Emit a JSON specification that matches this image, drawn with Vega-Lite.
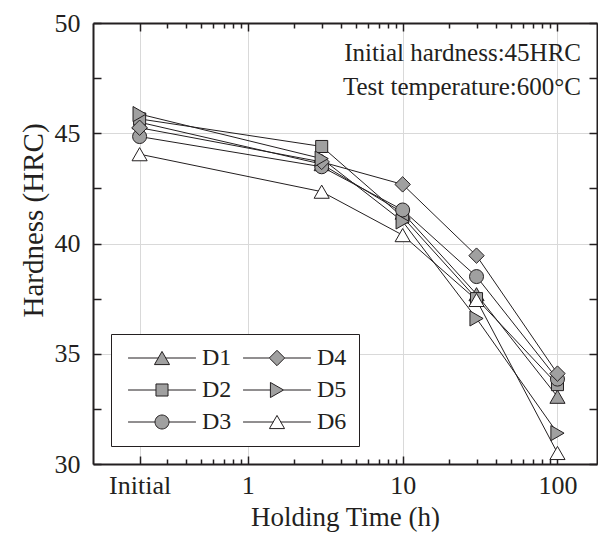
{
  "$schema": "https://vega.github.io/schema/vega-lite/v6.json",
  "width": 504,
  "height": 441,
  "autosize": {"type": "none"},
  "padding": {"left": 93, "top": 23, "right": 1, "bottom": 69},
  "background": "white",
  "config": {"view": {"stroke": null}, "font": "Liberation Serif"},
  "title": {
    "text": ["Initial hardness:45HRC", "Test temperature:600°C"],
    "anchor": "end",
    "orient": "top",
    "frame": "group",
    "offset": -90,
    "baseline": "top",
    "dx": -16,
    "font": "Liberation Serif",
    "fontSize": 25,
    "fontWeight": "normal",
    "color": "#231f20",
    "lineHeight": 34
  },
  "data": {
    "values": [
      {"series": "D1", "time": 0.2, "hardness": 45.5},
      {"series": "D1", "time": 3, "hardness": 43.6},
      {"series": "D1", "time": 10, "hardness": 41.4},
      {"series": "D1", "time": 30, "hardness": 37.7},
      {"series": "D1", "time": 100, "hardness": 33.05},
      {"series": "D2", "time": 0.2, "hardness": 45.65},
      {"series": "D2", "time": 3, "hardness": 44.4},
      {"series": "D2", "time": 10, "hardness": 41.2},
      {"series": "D2", "time": 30, "hardness": 37.5},
      {"series": "D2", "time": 100, "hardness": 33.6},
      {"series": "D3", "time": 0.2, "hardness": 44.85},
      {"series": "D3", "time": 3, "hardness": 43.48},
      {"series": "D3", "time": 10, "hardness": 41.52},
      {"series": "D3", "time": 30, "hardness": 38.5},
      {"series": "D3", "time": 100, "hardness": 33.85},
      {"series": "D4", "time": 0.2, "hardness": 45.25},
      {"series": "D4", "time": 3, "hardness": 43.7},
      {"series": "D4", "time": 10, "hardness": 42.68},
      {"series": "D4", "time": 30, "hardness": 39.45},
      {"series": "D4", "time": 100, "hardness": 34.1},
      {"series": "D5", "time": 0.2, "hardness": 45.87},
      {"series": "D5", "time": 3, "hardness": 43.85},
      {"series": "D5", "time": 10, "hardness": 41.0},
      {"series": "D5", "time": 30, "hardness": 36.6},
      {"series": "D5", "time": 100, "hardness": 31.4},
      {"series": "D6", "time": 0.2, "hardness": 44.05},
      {"series": "D6", "time": 3, "hardness": 42.35},
      {"series": "D6", "time": 10, "hardness": 40.38},
      {"series": "D6", "time": 30, "hardness": 37.44},
      {"series": "D6", "time": 100, "hardness": 30.5}
    ]
  },
  "layer": [
    {
      "mark": {"type": "line", "color": "#231f20", "strokeWidth": 1},
      "encoding": {
        "x": {
          "field": "time",
          "type": "quantitative",
          "scale": {"type": "log", "domain": [0.1, 180]},
          "axis": {
            "orient": "bottom",
            "title": "Holding Time (h)",
            "titleFont": "Liberation Serif",
            "titleFontSize": 27,
            "titleFontWeight": "normal",
            "titleColor": "#231f20",
            "titlePadding": 3,
            "values": [0.2, 0.3, 0.4, 0.5, 0.6, 0.7, 0.8, 0.9, 1, 2, 3, 4, 5, 6, 7, 8, 9, 10, 20, 30, 40, 50, 60, 70, 80, 90, 100],
            "labelExpr": "datum.value === 0.2 ? 'Initial' : (datum.value === 1 || datum.value === 10 || datum.value === 100) ? datum.label : ''",
            "labelFont": "Liberation Serif",
            "labelFontSize": 26,
            "labelColor": "#231f20",
            "labelFlush": false,
            "labelOverlap": false,
            "labelPadding": 16,
            "tickSize": {"condition": {"test": "datum.value === 0.2 || datum.value === 1 || datum.value === 10 || datum.value === 100", "value": -8}, "value": -5},
            "tickColor": "#231f20",
            "tickWidth": 1.5,
            "domainColor": "#231f20",
            "domainWidth": 2,
            "grid": true,
            "gridColor": "#d9d9d9",
            "gridWidth": 1,
            "gridOpacity": {"condition": {"test": "datum.value === 0.2 || datum.value === 1 || datum.value === 10 || datum.value === 100", "value": 1}, "value": 0}
          }
        },
        "y": {
          "field": "hardness",
          "type": "quantitative",
          "scale": {"domain": [30, 50]},
          "axis": {
            "orient": "left",
            "title": "Hardness (HRC)",
            "titleFont": "Liberation Serif",
            "titleFontSize": 29,
            "titleFontWeight": "normal",
            "titleColor": "#231f20",
            "titlePadding": 6,
            "titleY": 197,
            "values": [30, 32.5, 35, 37.5, 40, 42.5, 45, 47.5, 50],
            "labelExpr": "datum.value % 5 === 0 ? datum.label : ''",
            "labelFont": "Liberation Serif",
            "labelFontSize": 26,
            "labelColor": "#231f20",
            "labelFlush": false,
            "labelOverlap": false,
            "labelPadding": 21,
            "tickSize": -8,
            "tickColor": "#231f20",
            "tickWidth": 1.5,
            "domainColor": "#231f20",
            "domainWidth": 2,
            "grid": true,
            "gridColor": "#d9d9d9",
            "gridWidth": 1,
            "gridOpacity": {"condition": {"test": "datum.value % 5 === 0", "value": 1}, "value": 0}
          }
        },
        "detail": {"field": "series"}
      }
    },
    {
      "mark": {"type": "point", "filled": true, "strokeWidth": 1, "size": 196, "opacity": 1},
      "encoding": {
        "x": {
          "field": "time",
          "type": "quantitative",
          "scale": {"type": "log", "domain": [0.1, 180]},
          "axis": {
            "orient": "top",
            "title": null,
            "labels": false,
            "values": [0.2, 0.3, 0.4, 0.5, 0.6, 0.7, 0.8, 0.9, 1, 2, 3, 4, 5, 6, 7, 8, 9, 10, 20, 30, 40, 50, 60, 70, 80, 90, 100],
            "tickSize": {"condition": {"test": "datum.value === 0.2 || datum.value === 1 || datum.value === 10 || datum.value === 100", "value": -8}, "value": -5},
            "tickColor": "#231f20",
            "tickWidth": 1.5,
            "domainColor": "#231f20",
            "domainWidth": 2,
            "grid": false
          }
        },
        "y": {
          "field": "hardness",
          "type": "quantitative",
          "scale": {"domain": [30, 50]},
          "axis": {
            "orient": "right",
            "title": null,
            "labels": false,
            "values": [30, 32.5, 35, 37.5, 40, 42.5, 45, 47.5, 50],
            "tickSize": -8,
            "tickColor": "#231f20",
            "tickWidth": 1.5,
            "domainColor": "#231f20",
            "domainWidth": 2,
            "grid": false
          }
        },
        "shape": {
          "field": "series",
          "type": "nominal",
          "scale": {
            "domain": ["D1", "D2", "D3", "D4", "D5", "D6"],
            "range": [
              "M0,-0.94L1.08,0.94L-1.08,0.94Z",
              "M-0.86,-0.86L0.86,-0.86L0.86,0.86L-0.86,0.86Z",
              "circle",
              "M0,-1.1L1.1,0L0,1.1L-1.1,0Z",
              "M-0.94,-1.08L0.94,0L-0.94,1.08Z",
              "M0,-0.94L1.08,0.94L-1.08,0.94Z"
            ]
          },
          "legend": null
        },
        "fill": {
          "field": "series",
          "type": "nominal",
          "scale": {
            "domain": ["D1", "D2", "D3", "D4", "D5", "D6"],
            "range": ["#a0a0a0", "#a0a0a0", "#a0a0a0", "#a0a0a0", "#a0a0a0", "white"]
          },
          "legend": null
        },
        "stroke": {
          "field": "series",
          "type": "nominal",
          "scale": {
            "domain": ["D1", "D2", "D3", "D4", "D5", "D6"],
            "range": ["#231f20", "#231f20", "#231f20", "#231f20", "#231f20", "#231f20"]
          },
          "legend": null
        }
      }
    },
    {
      "mark": {"type": "point", "filled": true, "strokeWidth": 1, "size": 196, "opacity": 0},
      "encoding": {
        "x": {"field": "time", "type": "quantitative", "scale": {"type": "log", "domain": [0.1, 180]}, "axis": null},
        "y": {"field": "hardness", "type": "quantitative", "scale": {"domain": [30, 50]}, "axis": null},
        "shape": {
          "field": "series",
          "type": "nominal",
          "scale": {
            "domain": ["D1", "D2", "D3", "D4", "D5", "D6"],
            "range": [
              "M-4.85,0L-0.54,0M0.54,0L4.85,0M0,-0.94L1.08,0.94L-1.08,0.94Z",
              "M-4.85,0L-0.86,0M0.86,0L4.85,0M-0.86,-0.86L0.86,-0.86L0.86,0.86L-0.86,0.86Z",
              "M-4.85,0L-1,0M1,0L4.85,0M-1,0A1,1,0,1,0,1,0A1,1,0,1,0,-1,0Z",
              "M-4.85,0L-1.1,0M1.1,0L4.85,0M0,-1.1L1.1,0L0,1.1L-1.1,0Z",
              "M-4.85,0L-0.94,0M0.94,0L4.85,0M-0.94,-1.08L0.94,0L-0.94,1.08Z",
              "M-4.85,0L-0.54,0M0.54,0L4.85,0M0,-0.94L1.08,0.94L-1.08,0.94Z"
            ]
          },
          "legend": {
            "title": null,
            "orient": "bottom-left",
            "offset": 18,
            "columns": 2,
            "padding": 12,
            "rowPadding": 8,
            "columnPadding": 6,
            "strokeColor": "#231f20",
            "fillColor": "white",
            "cornerRadius": 0,
            "symbolSize": 196,
            "symbolStrokeWidth": 1,
            "symbolOpacity": 1,
            "symbolOffset": 27,
            "labelOffset": 28,
            "labelFont": "Liberation Serif",
            "labelFontSize": 24,
            "labelColor": "#231f20"
          }
        },
        "fill": {
          "field": "series",
          "type": "nominal",
          "scale": {
            "domain": ["D1", "D2", "D3", "D4", "D5", "D6"],
            "range": ["#a0a0a0", "#a0a0a0", "#a0a0a0", "#a0a0a0", "#a0a0a0", "white"]
          },
          "legend": {
            "title": null,
            "orient": "bottom-left",
            "offset": 18,
            "columns": 2,
            "padding": 12,
            "rowPadding": 8,
            "columnPadding": 6,
            "strokeColor": "#231f20",
            "fillColor": "white",
            "cornerRadius": 0,
            "symbolSize": 196,
            "symbolStrokeWidth": 1,
            "symbolOpacity": 1,
            "symbolOffset": 27,
            "labelOffset": 28,
            "labelFont": "Liberation Serif",
            "labelFontSize": 24,
            "labelColor": "#231f20"
          }
        },
        "stroke": {
          "field": "series",
          "type": "nominal",
          "scale": {
            "domain": ["D1", "D2", "D3", "D4", "D5", "D6"],
            "range": ["#231f20", "#231f20", "#231f20", "#231f20", "#231f20", "#231f20"]
          },
          "legend": {
            "title": null,
            "orient": "bottom-left",
            "offset": 18,
            "columns": 2,
            "padding": 12,
            "rowPadding": 8,
            "columnPadding": 6,
            "strokeColor": "#231f20",
            "fillColor": "white",
            "cornerRadius": 0,
            "symbolSize": 196,
            "symbolStrokeWidth": 1,
            "symbolOpacity": 1,
            "symbolOffset": 27,
            "labelOffset": 28,
            "labelFont": "Liberation Serif",
            "labelFontSize": 24,
            "labelColor": "#231f20"
          }
        }
      }
    }
  ],
  "resolve": {
    "axis": {"x": "independent", "y": "independent"},
    "scale": {"shape": "independent", "fill": "independent", "stroke": "independent"}
  }
}
